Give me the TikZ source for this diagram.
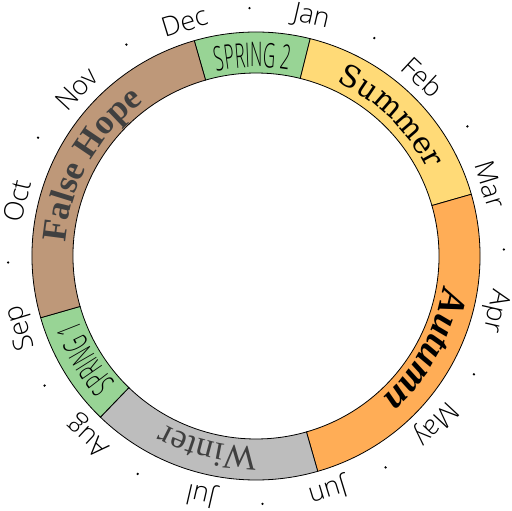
\documentclass[tikz,border=0pt]{standalone}
\usepackage{fontspec}
\usepackage{xcolor}
\usepackage{tikz}
\usetikzlibrary{decorations.text}
\setmainfont{Open Sans}
\IfFontExistsTF{Open Sans Light}
  {\newfontfamily\monthfont{Open Sans Light}
   \newfontfamily\springfont[FakeStretch=0.5]{Open Sans Light}}
  {\newfontfamily\monthfont{Open Sans}
   \newfontfamily\springfont[FakeStretch=0.5]{Open Sans}}
\newfontfamily\summerfont{DejaVu Serif}
\newfontfamily\seasonserif{Liberation Serif}
\definecolor{sgreen}{HTML}{98D495}
\definecolor{syellow}{HTML}{FFDA77}
\definecolor{aorange}{HTML}{FFAD56}
\definecolor{wgray}{HTML}{BDBDBD}
\definecolor{hbrown}{HTML}{BE9879}

\begin{document}
\begin{tikzpicture}[x=1pt, y=1pt,
  seg/.style={draw=black, line width=0.8pt},
  month/.style={font=\monthfont\fontsize{27}{27}\selectfont, inner sep=0pt}]
\useasboundingbox (-256,-255) rectangle (256,256);
% ring of seasons
\foreach \a/\b/\c in {106/76/sgreen, 76/16/syellow, 16/-74/aorange,
                      -74/-134/wgray, -134/-164/sgreen, -164/-254/hbrown}
  \filldraw[seg, fill=\c] (\a:224) arc[start angle=\a, end angle=\b, radius=224]
    -- (\b:183) arc[start angle=\b, end angle=\a, radius=183] -- cycle;
% season names along the ring
\path[decorate, decoration={text along path, text align=center,
  text={|\springfont\fontsize{34}{34}\selectfont|SPRING 2}}]
  (106:189) arc[start angle=106, end angle=76, radius=189];
\path[decorate, decoration={text along path, text align=center,
  text={|\summerfont\fontsize{30}{30}\selectfont|Summer}}]
  (76:192) arc[start angle=76, end angle=16, radius=192];
\path[decorate, decoration={text along path, text align=center,
  text={|\seasonserif\bfseries\itshape\fontsize{38}{38}\selectfont|Autumn}}]
  (16:190) arc[start angle=16, end angle=-74, radius=190];
\path[decorate, decoration={text along path, text align=center,
  text={|\seasonserif\color{black!75}\fontsize{35}{35}\selectfont|Winter}}]
  (-74:191) arc[start angle=-74, end angle=-134, radius=191];
\path[decorate, decoration={text along path, text align=center,
  text={|\springfont\fontsize{34}{34}\selectfont|SPRING 1}}]
  (-134:189) arc[start angle=-134, end angle=-164, radius=189];
\path[decorate, decoration={text along path, text align=center,
  text={|\seasonserif\bfseries\color{black!75}\fontsize{35}{35}\selectfont|False Hope}}]
  (-164:191) arc[start angle=-164, end angle=-254, radius=191];
% months and dots
\foreach \m [count=\i] in {Jan,Feb,Mar,Apr,May,Jun,Jul,Aug,Sep,Oct,Nov,Dec} {
  \pgfmathsetmacro\ang{107-30*\i}
  \node[month, rotate=\ang-90] (m\i) at (\ang:245) {\m};
}
\foreach \i in {0,...,11}
  \fill ({91.5-30*\i}:248) circle (1.3);
\end{tikzpicture}
\end{document}
